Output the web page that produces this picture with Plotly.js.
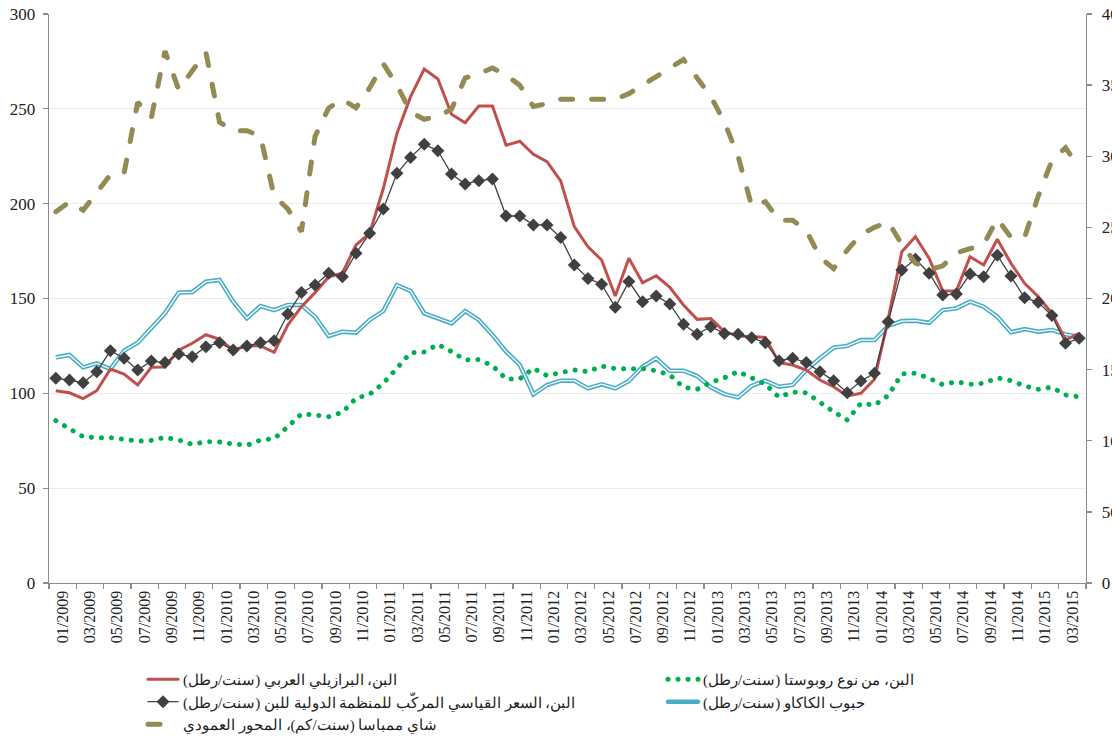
<!DOCTYPE html>
<html>
<head>
<meta charset="utf-8">
<script src="https://cdn.plot.ly/plotly-3.0.1.min.js"></script>
<style>
html,body{margin:0;padding:0;background:#fff;}
#chart{width:1112px;height:741px;}
.tracerobusta path.js-line, .tracetea path.js-line {stroke-linecap:round;}
.legend .traces path.js-line {stroke-linecap:round;}
</style>
</head>
<body>
<div id="chart"></div>
<script>
// Tick labels (every second month, 01/2009 .. 03/2015)
const tickLabels = ["01/2009","03/2009","05/2009","07/2009","09/2009","11/2009",
  "01/2010","03/2010","05/2010","07/2010","09/2010","11/2010",
  "01/2011","03/2011","05/2011","07/2011","09/2011","11/2011",
  "01/2012","03/2012","05/2012","07/2012","09/2012","11/2012",
  "01/2013","03/2013","05/2013","07/2013","09/2013","11/2013",
  "01/2014","03/2014","05/2014","07/2014","09/2014","11/2014",
  "01/2015","03/2015"];

// Monthly series, 01/2009 .. 04/2015 (76 months)
const arabicaBrazil = [101.4,100.3,97.2,101.4,112.8,110.2,104.4,113.7,113.9,122.8,126.4,130.9,128.5,122.8,125.1,125.0,121.6,136.0,145.7,153.1,161.5,163.3,178.2,184.4,
  208.0,237.0,256.4,271.0,265.7,247.1,242.7,251.5,251.5,230.8,232.9,226.0,222.1,212.0,187.9,177.3,170.3,151.3,171.2,158.3,162.0,155.9,146.6,139.0,139.4,
  132.5,130.2,129.7,129.5,116.2,114.9,112.3,107.0,103.5,98.6,100.0,107.4,139.0,174.7,182.6,171.2,154.0,154.0,172.0,167.7,181.2,168.6,158.0,151.0,142.2,128.1,131.6];

const robusta = [85.6,81.4,77.1,76.6,76.6,75.8,74.7,75.2,76.8,75.4,73.1,74.5,74.3,73.3,72.6,75.4,76.1,82.4,89.1,88.6,87.7,90.0,97.4,99.5,
  105.3,113.2,121.4,121.8,125.8,122.0,117.6,117.8,114.6,107.6,107.6,113.2,109.3,110.9,112.3,111.4,114.4,113.0,113.2,113.0,111.9,109.7,103.2,102.1,105.8,
  108.2,111.5,108.0,104.8,98.0,100.7,100.3,94.9,90.3,85.9,94.7,93.8,98.8,110.2,110.6,108.0,104.6,106.1,104.8,105.3,108.2,106.7,103.9,102.1,103.2,99.1,98.2];

const icoComposite = [107.9,107.0,105.6,111.4,122.5,118.5,112.3,117.0,116.2,120.7,119.3,124.6,126.7,122.8,125.0,126.7,127.7,141.8,153.1,157.1,163.3,161.5,173.8,184.4,
  197.2,216.0,224.4,231.3,227.9,215.6,210.4,212.1,213.0,193.5,193.5,188.8,188.8,182.1,167.7,160.6,157.5,145.4,158.9,148.3,151.3,147.1,136.4,131.1,135.1,
  131.6,131.1,129.3,126.7,117.2,118.5,116.2,111.4,106.7,100.3,106.5,110.6,137.8,165.0,170.7,163.3,151.8,152.4,162.9,161.5,172.8,161.9,150.4,148.0,141.0,126.4,129.0];

const cocoa = [119.0,120.2,113.7,115.8,112.8,122.5,126.7,134.3,142.2,153.1,153.4,158.9,159.8,148.3,139.6,146.0,143.9,146.6,146.6,140.4,130.2,132.5,132.0,138.7,
  143.4,157.1,154.0,142.2,139.6,136.9,143.4,138.7,130.8,122.0,115.0,99.5,104.4,106.7,106.7,102.6,104.8,102.6,106.5,114.0,118.5,111.9,111.9,109.1,103.2,
  99.6,97.9,103.9,106.7,103.5,104.4,112.3,118.5,124.1,125.0,128.1,128.1,135.5,138.1,138.3,137.2,143.9,144.8,148.3,145.7,140.4,132.2,133.9,132.5,133.4,131.1,129.9];

const teaMombasa = [261,268,262,275,287,288,338,327,374,347,360,373,324,318,318,314,272,263,247,314,334,340,334,348,
  365,350,331,326,328,333,355,358,362,357,350,335,337,340,340,340,340,340,344,350,357,363,368,355,342,
  324,300,265,268,255,255,248,229,221,234,245,250,254,238,225,220,223,232,235,238,256,243,243,272,297,306,292];

const seriesNames = {
  arabica: "البن، البرازيلي العربي (سنت/رطل)",
  robusta: "البن، من نوع روبوستا (سنت/رطل)",
  ico: "البن، السعر القياسي المركّب للمنظمة الدولية للبن (سنت/رطل)",
  cocoa: "حبوب الكاكاو (سنت/رطل)",
  tea: "شاي ممباسا (سنت/كم)، المحور العمودي"
};

const xIdx = arabicaBrazil.map((_, i) => i);
const tickPos = tickLabels.map((_, k) => 2 * k + 0.5);

const traces = [
  {x: xIdx, y: cocoa, type: 'scatter', mode: 'lines', name: seriesNames.cocoa, legendrank: 4,
   line: {color: '#4BACC6', width: 4.5}, hoverinfo: 'skip'},
  {x: xIdx, y: cocoa, type: 'scatter', mode: 'lines', showlegend: false,
   line: {color: '#ffffff', width: 1.3}, hoverinfo: 'skip'},
  {x: xIdx, y: robusta, type: 'scatter', mode: 'lines', name: seriesNames.robusta, legendrank: 2, uid: 'robusta',
   line: {color: '#00B050', width: 5, dash: '0.1px,9.9px'}},
  {x: xIdx, y: arabicaBrazil, type: 'scatter', mode: 'lines', name: seriesNames.arabica, legendrank: 1,
   line: {color: '#C0504D', width: 3}},
  {x: xIdx, y: icoComposite, type: 'scatter', mode: 'lines+markers', name: seriesNames.ico, legendrank: 3,
   line: {color: '#404040', width: 1.3}, marker: {symbol: 'diamond', size: 10, color: '#404040'}},
  {x: xIdx, y: teaMombasa, type: 'scatter', mode: 'lines', name: seriesNames.tea, legendrank: 5, yaxis: 'y2', uid: 'tea',
   line: {color: '#948A54', width: 5, dash: '12px,19px'}}
];

const serif = '"Liberation Serif", "Times New Roman", serif';
const axisFont = {family: serif, size: 17, color: '#222'};

const layout = {
  width: 1112, height: 741,
  margin: {l: 49, r: 26, t: 14, b: 158},
  paper_bgcolor: '#fff', plot_bgcolor: '#fff',
  showlegend: true,
  font: {family: serif, color: '#222'},
  xaxis: {
    type: 'linear', range: [-0.5, 75.5], fixedrange: true,
    tickmode: 'array', tickvals: tickPos, ticktext: tickLabels, tickangle: -90,
    ticks: '', showgrid: false, zeroline: false,
    showline: true, linecolor: '#8c8c8c', linewidth: 1.3,
    tickfont: {family: serif, size: 16, color: '#222'},
    minor: {tickmode: 'linear', tick0: -0.5, dtick: 2, ticks: 'outside', ticklen: 5, tickcolor: '#8c8c8c', tickwidth: 1.3, showgrid: false}
  },
  yaxis: {
    range: [0, 300], tickmode: 'linear', tick0: 0, dtick: 50,
    ticks: 'outside', ticklen: 5, tickcolor: '#8c8c8c', tickwidth: 1.3,
    showline: true, linecolor: '#8c8c8c', linewidth: 1.3,
    showgrid: true, gridcolor: '#ececec', gridwidth: 1, zeroline: false,
    tickfont: axisFont, fixedrange: true, ticklabelstandoff: 4
  },
  yaxis2: {
    range: [0, 400], tickmode: 'linear', tick0: 0, dtick: 50,
    overlaying: 'y', side: 'right',
    ticks: 'outside', ticklen: 5, tickcolor: '#8c8c8c', tickwidth: 1.3,
    showline: true, linecolor: '#8c8c8c', linewidth: 1.3,
    showgrid: false, zeroline: false, tickfont: axisFont, fixedrange: true, ticklabelstandoff: 6
  },
  legend: {
    orientation: 'h', xref: 'container', yref: 'container',
    x: 0.1286, xanchor: 'left', y: 0.1053, yanchor: 'top',
    entrywidth: 475, entrywidthmode: 'pixels',
    font: {family: serif, size: 15, color: '#222'},
    bgcolor: 'rgba(0,0,0,0)', traceorder: 'normal', itemwidth: 30
  }
};

Plotly.newPlot('chart', traces, layout, {staticPlot: true, displayModeBar: false});
</script>
</body>
</html>
